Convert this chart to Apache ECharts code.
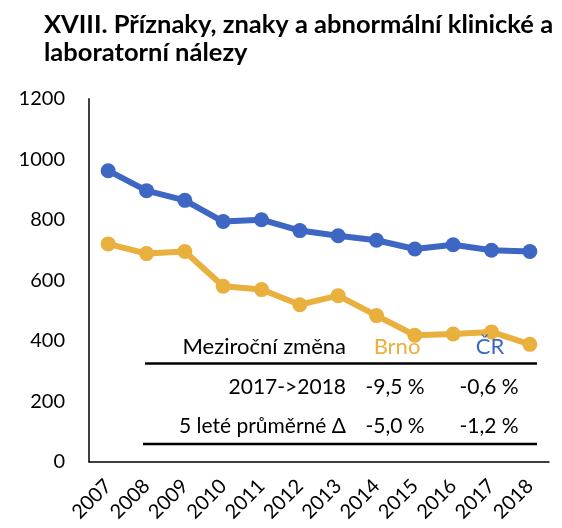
<!DOCTYPE html>
<html>
<head>
<meta charset="utf-8">
<script src="https://cdn.jsdelivr.net/npm/echarts@6/dist/echarts.min.js"></script>
<style>
  html, body { margin: 0; padding: 0; background: #fff; }
  #chart { width: 562px; height: 528px; }
</style>
</head>
<body>
<div id="chart"></div>
<script>
  var years = ["2007", "2008", "2009", "2010", "2011", "2012", "2013", "2014", "2015", "2016", "2017", "2018"];
  var cr = [962, 896, 864, 794, 800, 764, 747, 732, 703, 717, 699, 695];
  var brno = [720, 688, 695, 580, 569, 519, 549, 483, 418, 422, 429, 388];
  var yTicks = [0, 200, 400, 600, 800, 1000, 1200];

  // table overlay: row label, Brno, ČR
  var tableHead = ["Meziroční změna", "Brno", "ČR"];
  var tableRows = [
    ["2017->2018", "-9,5 %", "-0,6 %"],
    ["5 leté průměrné \u0394", "-5,0 %", "-1,2 %"]
  ];

  var BLUE = "#3d67c2";
  var GOLD = "#e9b03e";
  var FONT = "Lato";

  function cell(text, x, y, align, color, size) {
    return {
      type: "text",
      x: x,
      y: y,
      z: 100,
      style: {
        text: text,
        fontSize: size || 21,
        fontFamily: FONT,
        fill: color || "#000",
        align: align,
        verticalAlign: "middle"
      }
    };
  }

  function rule(y, x1, x2) {
    return {
      type: "line",
      z: 100,
      shape: { x1: x1, y1: y, x2: x2, y2: y },
      style: { stroke: "#000", lineWidth: 2.5 }
    };
  }

  var graphics = [
    cell(tableHead[0], 346, 347, "right", "#000", 22),
    cell(tableHead[1], 397, 347, "center", GOLD, 22),
    cell(tableHead[2], 490, 347, "center", BLUE, 22),
    rule(363.5, 145, 537)
  ];
  var rowY = [387, 426];
  tableRows.forEach(function (r, i) {
    graphics.push(cell(r[0], 346, rowY[i], "right"));
    graphics.push(cell(r[1], 395, rowY[i], "center"));
    graphics.push(cell(r[2], 489, rowY[i], "center"));
  });
  graphics.push(rule(444, 143, 537));

  var chart = echarts.init(document.getElementById("chart"), null, { renderer: "canvas" });
  chart.setOption({
    animation: false,
    title: {
      text: "XVIII. Příznaky, znaky a abnormální klinické a\nlaboratorní nálezy",
      left: 39,
      top: 6,
      textStyle: {
        fontFamily: FONT,
        fontWeight: "bold",
        fontSize: 25.5,
        lineHeight: 28,
        color: "#000"
      }
    },
    grid: { left: 89, right: 13, top: 98.7, bottom: 66.3, containLabel: false },
    xAxis: {
      type: "category",
      data: years,
      boundaryGap: true,
      axisLine: { lineStyle: { color: "#000", width: 1.5 } },
      axisTick: { show: false },
      axisLabel: {
        rotate: 45,
        margin: 21,
        fontFamily: FONT,
        fontSize: 20,
        color: "#000",
        interval: 0
      }
    },
    yAxis: {
      type: "value",
      min: yTicks[0],
      max: yTicks[yTicks.length - 1],
      interval: 200,
      axisLine: { show: true, lineStyle: { color: "#000", width: 1.5 } },
      axisTick: { show: false },
      splitLine: { show: false },
      axisLabel: {
        margin: 24,
        fontFamily: FONT,
        fontSize: 20,
        color: "#000",
        formatter: function (v) { return String(v); }
      }
    },
    series: [
      {
        name: "ČR",
        type: "line",
        data: cr,
        symbol: "circle",
        symbolSize: 15,
        lineStyle: { color: BLUE, width: 6 },
        itemStyle: { color: BLUE, borderWidth: 0 }
      },
      {
        name: "Brno",
        type: "line",
        data: brno,
        symbol: "circle",
        symbolSize: 15,
        lineStyle: { color: GOLD, width: 6 },
        itemStyle: { color: GOLD, borderWidth: 0 }
      }
    ],
    graphic: graphics
  });
</script>
</body>
</html>
